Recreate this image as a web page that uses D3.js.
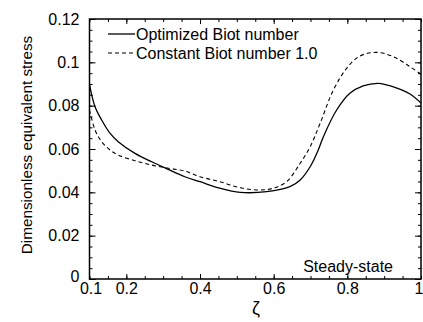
<!DOCTYPE html>
<html><head><meta charset="utf-8">
<script src="https://cdn.jsdelivr.net/npm/d3@7"></script>
<style>body{margin:0;background:#fff}svg{display:block}text{font-family:"Liberation Sans",Arial,sans-serif;fill:#000}</style>
</head><body><svg id="c" width="423" height="322"></svg>
<script>
const zeta = [0.1,0.115,0.133,0.156,0.178,0.2235,0.269,0.314,0.359,0.4,0.454,0.509,0.581,0.644,0.672,0.699,0.721,0.735,0.771,0.807,0.843,0.884,0.925,0.97,1.0];
const optimized = [0.0897,0.0795,0.0734,0.0672,0.0634,0.058,0.0541,0.0506,0.0472,0.0449,0.0419,0.04,0.0403,0.0426,0.0457,0.0518,0.0595,0.0657,0.078,0.0857,0.0891,0.0903,0.0887,0.0854,0.0812];
const zetaC = [0.1,0.115,0.133,0.156,0.178,0.2235,0.269,0.314,0.359,0.4,0.454,0.509,0.563,0.599,0.635,0.672,0.699,0.726,0.762,0.798,0.834,0.88,0.925,0.97,1.0];
const constant = [0.078,0.0688,0.0634,0.0595,0.0572,0.0546,0.0526,0.0511,0.0498,0.0472,0.0449,0.0421,0.0411,0.0419,0.0449,0.0534,0.061,0.0718,0.0872,0.0972,0.1029,0.1046,0.1026,0.098,0.0945];
const xTicks = [0.1,0.2,0.4,0.6,0.8,1];
const yTicks = [0,0.02,0.04,0.06,0.08,0.1,0.12];
const legendLabels = ["Optimized Biot number","Constant Biot number 1.0"];

const svg = d3.select("#c");
const L=89.5, R=421, T=19, B=279;
const x = d3.scaleLinear().domain([0.1,1]).range([L,R]);
const y = d3.scaleLinear().domain([0,0.12]).range([B,T]);
const fmt = d => String(+d.toFixed(3));
const xMinor = d3.range(0.1,1.0001,0.05).map(v=>+v.toFixed(3));
const yMinor = d3.range(0,0.12001,0.005).map(v=>+v.toFixed(3));
const xMajor = [0.2,0.4,0.6,0.8];
const FS = 16;

function styleAxis(g){g.select(".domain").remove();g.selectAll("line").attr("stroke","#000").attr("stroke-width",1);g.selectAll("text").attr("font-size",FS).attr("font-family","Liberation Sans, Arial, sans-serif");}

// bottom
svg.append("g").attr("transform",`translate(0,${B})`).call(d3.axisBottom(x).tickValues(xMinor).tickSize(-3).tickFormat("")).call(styleAxis);
svg.append("g").attr("transform",`translate(0,${B})`).call(d3.axisBottom(x).tickValues(xMajor).tickSize(-5).tickFormat("")).call(styleAxis);
const xl = svg.append("g").attr("transform",`translate(0,${B})`).call(d3.axisBottom(x).tickValues(xTicks).tickSize(0).tickPadding(4).tickFormat(fmt)).call(styleAxis);
xl.selectAll(".tick").filter(d=>d===1).select("text").attr("text-anchor","end").attr("x",2);
xl.selectAll(".tick").filter(d=>d===0.1).select("text").attr("x",1);
// top
svg.append("g").attr("transform",`translate(0,${T})`).call(d3.axisTop(x).tickValues(xMinor).tickSize(-3).tickFormat("")).call(styleAxis);
svg.append("g").attr("transform",`translate(0,${T})`).call(d3.axisTop(x).tickValues(xMajor).tickSize(-5).tickFormat("")).call(styleAxis);
// left
svg.append("g").attr("transform",`translate(${L},0)`).call(d3.axisLeft(y).tickValues(yMinor).tickSize(-3).tickFormat("")).call(styleAxis);
const yl = svg.append("g").attr("transform",`translate(${L},0)`).call(d3.axisLeft(y).tickValues(yTicks).tickSize(-6).tickPadding(10).tickFormat(fmt)).call(styleAxis);
yl.selectAll(".tick").filter(d=>d===0).select("text").attr("dy","0.18em");
// right
svg.append("g").attr("transform",`translate(${R},0)`).call(d3.axisRight(y).tickValues(yMinor).tickSize(-3).tickFormat("")).call(styleAxis);
svg.append("g").attr("transform",`translate(${R},0)`).call(d3.axisRight(y).tickValues(yTicks).tickSize(-6).tickFormat("")).call(styleAxis);

// frame
svg.append("rect").attr("x",L).attr("y",T).attr("width",R-L).attr("height",B-T).attr("fill","none").attr("stroke","#000").attr("stroke-width",1.5);

const line = d3.line().curve(d3.curveCatmullRom.alpha(0.5));
svg.append("path").attr("d",line(zeta.map((z,i)=>[x(z),y(optimized[i])]))).attr("fill","none").attr("stroke","#000").attr("stroke-width",1.3);
svg.append("path").attr("d",line(zetaC.map((z,i)=>[x(z),y(constant[i])]))).attr("fill","none").attr("stroke","#000").attr("stroke-width",1.1).attr("stroke-dasharray","4,3");

// legend
const lg = svg.append("g");
legendLabels.forEach((t,i)=>{
  const yy = 34 + i*19;
  lg.append("line").attr("x1",108).attr("x2",135).attr("y1",yy).attr("y2",yy).attr("stroke","#000").attr("stroke-width",i?1.1:1.3).attr("stroke-dasharray",i?"4,3":null);
  lg.append("text").attr("x",136).attr("y",yy+5.5).attr("font-size",FS).text(t);
});

svg.append("text").attr("x",393).attr("y",272).attr("text-anchor","end").attr("font-size",FS).text("Steady-state");
svg.append("text").attr("x",256).attr("y",314).attr("text-anchor","middle").attr("font-size",18).text("ζ");
svg.append("text").attr("transform","translate(32,145) rotate(-90)").attr("text-anchor","middle").attr("font-size",15.3).text("Dimensionless equivalent stress");
</script></body></html>
